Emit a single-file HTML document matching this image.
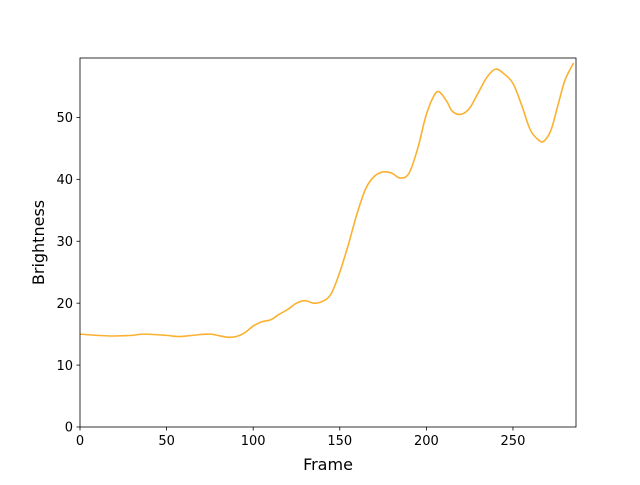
<!DOCTYPE html>
<html><head><meta charset="utf-8"><style>
body{margin:0;background:#fff;font-family:"Liberation Sans","DejaVu Sans",sans-serif}
svg text{font-family:"DejaVu Sans","Liberation Sans",sans-serif}
</style></head><body>
<svg id="chart" width="640" height="480">
<rect width="640" height="480" fill="#fff"/>
<g id="plot"></g>
</svg>
<script>
const frames=[0,10,20,30,37,50,57,65,75,85,90,95,100,105,110,115,120,125,130,135,140,145,150,155,160,165,170,175,180,185,190,195,200,205,208,212,215,220,225,230,235,240,245,250,255,260,265,268,272,276,280,285];
const brightness=[15.0,14.8,14.7,14.8,15.0,14.8,14.6,14.8,15.0,14.5,14.6,15.2,16.3,17.0,17.3,18.2,19.0,20.0,20.4,20.0,20.3,21.5,25.0,29.5,34.5,38.5,40.5,41.2,41.0,40.2,41.0,45.0,50.5,53.8,54.0,52.5,51.0,50.5,51.5,54.0,56.5,57.8,57.0,55.5,52.0,48.0,46.3,46.2,48.0,52.0,56.0,58.8];
const xTicks=[0,50,100,150,200,250];
const yTicks=[0,10,20,30,40,50];
const L=80,R=576,T=58,B=427,XMAX=286.4,YMAX=59.6;
const sx=v=>L+v/XMAX*(R-L), sy=v=>B-v/YMAX*(B-T);
const NS='http://www.w3.org/2000/svg';
const g=document.getElementById('plot');
function mk(tag,attrs,parent){const e=document.createElementNS(NS,tag);for(const k in attrs)e.setAttribute(k,attrs[k]);(parent||g).appendChild(e);return e;}
const pts=frames.map((f,i)=>[sx(f),sy(brightness[i])]);
let d='M'+pts[0][0]+','+pts[0][1];
for(let i=0;i<pts.length-1;i++){const p0=pts[i-1]||pts[i],p1=pts[i],p2=pts[i+1],p3=pts[i+2]||p2;
d+=' C'+(p1[0]+(p2[0]-p0[0])/6)+','+(p1[1]+(p2[1]-p0[1])/6)+' '+(p2[0]-(p3[0]-p1[0])/6)+','+(p2[1]-(p3[1]-p1[1])/6)+' '+p2[0]+','+p2[1];}
const line=mk('path',{d:d,fill:'none',stroke:'#fbb130','stroke-width':1.6});


const frame=mk('rect',{x:L,y:T,width:R-L,height:B-T,fill:'none',stroke:'#000','stroke-width':0.8});


xTicks.forEach(t=>{const x=sx(t);mk('line',{x1:x,x2:x,y1:B,y2:B+3.5,stroke:'#000','stroke-width':0.8});
const tx=mk('text',{x:x,y:B+18,'text-anchor':'middle','font-size':13});tx.textContent=t;

});
yTicks.forEach(t=>{const y=sy(t);mk('line',{x1:L,x2:L-3.5,y1:y,y2:y,stroke:'#000','stroke-width':0.8});
const tx=mk('text',{x:L-7,y:y+4.7,'text-anchor':'end','font-size':13});tx.textContent=t;

});
const xl=mk('text',{x:(L+R)/2,y:470,'text-anchor':'middle','font-size':16});xl.textContent='Frame';


const yl=mk('text',{x:0,y:0,'text-anchor':'middle','font-size':16,transform:'translate(44,'+((T+B)/2)+') rotate(-90)'});yl.textContent='Brightness';


</script>
</body></html>
